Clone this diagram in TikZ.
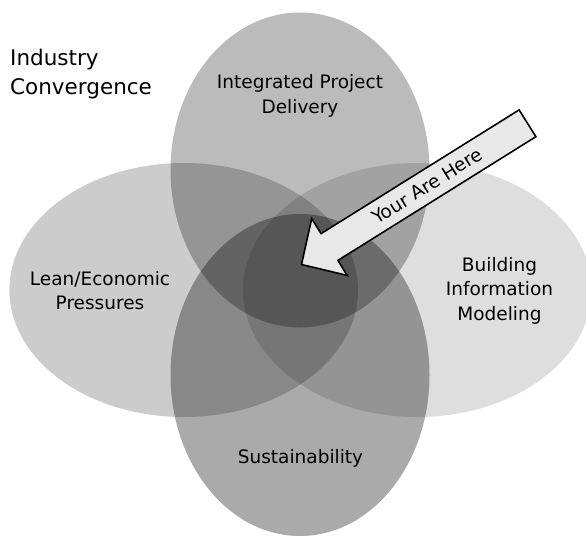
\documentclass[tikz,border=0pt]{standalone}
\usepackage{fontspec}
\setmainfont{DejaVu Sans}
\usetikzlibrary{shapes.geometric}
\tikzset{
  blob/.style={ellipse, fill=black, inner sep=0pt},
  lbl/.style={align=center, text=black, font=\fontsize{18.5}{24.5}\selectfont, inner sep=0pt},
  ttl/.style={align=left, anchor=west, text=black, font=\fontsize{21.5}{28.5}\selectfont, inner sep=0pt},
  pointer/.style={fill=black!9, draw=black, line width=1.6pt, line join=miter},
}
\begin{document}
\begin{tikzpicture}[x=1pt,y=-1pt]
\useasboundingbox (0,0) rectangle (586,536);
\fill[white] (0,0) rectangle (586,536);
\clip (0,0) rectangle (586,536);
% ellipses (multiplicative grey via black with opacity)
\node[blob, fill opacity=0.267, minimum width=259pt, minimum height=315pt] (ipd) at (300,170) {};
\node[blob, fill opacity=0.333, minimum width=259pt, minimum height=322pt] (sus) at (300,375) {};
\node[blob, fill opacity=0.20, minimum width=348.6pt, minimum height=254pt] (lean) at (183.7,290) {};
\node[blob, fill opacity=0.13, minimum width=348.6pt, minimum height=254pt] (bim) at (417.3,290) {};
% labels
\node[ttl] (title) at (10,74) {Industry\\Convergence};
\node[lbl] (ipdl) at (300,96) {Integrated Project\\Delivery};
\node[lbl] (leanl) at (100,290.5) {Lean/Economic\\Pressures};
\node[lbl] (biml) at (499.5,290.5) {Building\\Information\\Modeling};
\node[lbl] (susl) at (300.5,458) {Sustainability};
% arrow
\coordinate (tip) at (301.5,264.5);
\coordinate (ha) at (311.7,218.6);
\coordinate (ja) at (321.1,233.6);
\coordinate (ta) at (519.1,109.9);
\coordinate (tb) at (535.9,136.7);
\coordinate (jb) at (337.9,260.4);
\coordinate (hb) at (347.2,275.4);
\draw[pointer] (tip) -- (ha) -- (ja) -- (ta) -- (tb) -- (jb) -- (hb) -- cycle;
\node[lbl, rotate=32] (here) at (427.3,185.9) {Your Are Here};
\end{tikzpicture}
\end{document}
